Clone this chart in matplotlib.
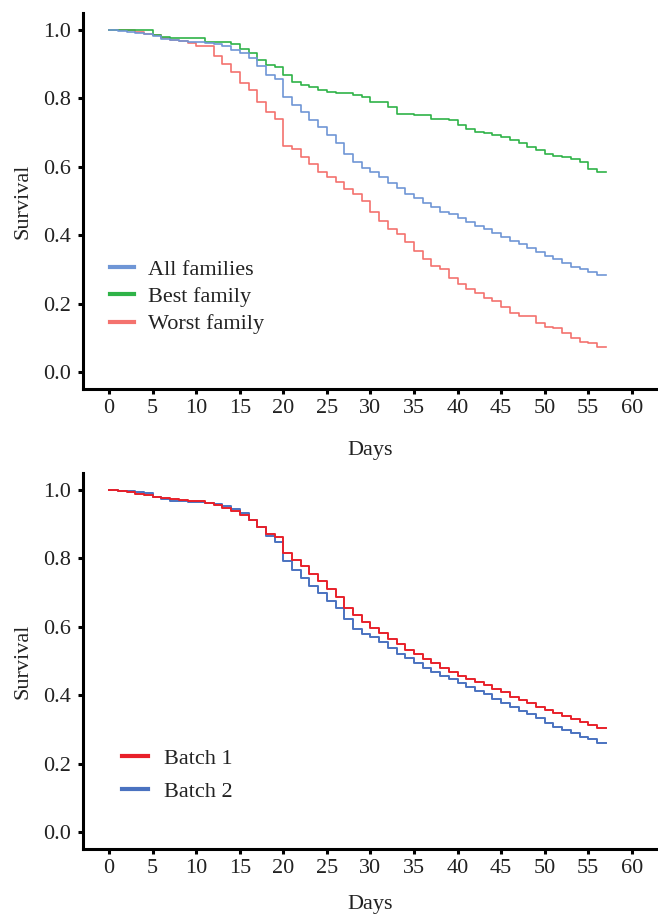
import matplotlib
matplotlib.use('Agg')
import matplotlib.pyplot as plt
import numpy as np

plt.rcParams['font.family'] = ['Liberation Serif', 'DejaVu Serif']

days = np.arange(0, 58)

# top panel: families
all_families = [1.0, 0.998, 0.995, 0.992, 0.988, 0.982, 0.975, 0.971, 0.968, 0.965,
                0.964, 0.963, 0.959, 0.953, 0.943, 0.932, 0.917, 0.896, 0.870, 0.856,
                0.805, 0.781, 0.761, 0.737, 0.717, 0.693, 0.669, 0.639, 0.615, 0.598,
                0.586, 0.569, 0.554, 0.537, 0.521, 0.508, 0.493, 0.482, 0.469, 0.461,
                0.449, 0.438, 0.428, 0.417, 0.406, 0.396, 0.383, 0.373, 0.362, 0.350,
                0.339, 0.330, 0.320, 0.308, 0.300, 0.291, 0.284, 0.284]
best_family = [1.0, 1.0, 1.0, 1.0, 1.0, 0.985, 0.980, 0.978, 0.978, 0.978,
               0.978, 0.966, 0.966, 0.966, 0.958, 0.946, 0.934, 0.912, 0.898, 0.893,
               0.870, 0.849, 0.839, 0.834, 0.825, 0.820, 0.815, 0.815, 0.810, 0.805,
               0.790, 0.790, 0.776, 0.756, 0.756, 0.751, 0.751, 0.741, 0.741, 0.736,
               0.722, 0.711, 0.703, 0.698, 0.692, 0.687, 0.678, 0.669, 0.658, 0.648,
               0.638, 0.632, 0.628, 0.623, 0.614, 0.595, 0.584, 0.584]
worst_family = [1.0, 1.0, 1.0, 0.995, 0.990, 0.985, 0.978, 0.972, 0.968, 0.963,
                0.953, 0.953, 0.924, 0.902, 0.878, 0.844, 0.825, 0.790, 0.761, 0.740,
                0.662, 0.652, 0.630, 0.607, 0.586, 0.569, 0.556, 0.535, 0.520, 0.501,
                0.467, 0.442, 0.417, 0.404, 0.381, 0.354, 0.329, 0.310, 0.300, 0.274,
                0.256, 0.242, 0.232, 0.217, 0.208, 0.191, 0.172, 0.164, 0.164, 0.142,
                0.132, 0.128, 0.113, 0.099, 0.089, 0.084, 0.074, 0.074]

# bottom panel: batches
batch1 = [1.0, 0.997, 0.994, 0.988, 0.985, 0.980, 0.976, 0.973, 0.971, 0.969,
          0.968, 0.963, 0.956, 0.948, 0.939, 0.927, 0.912, 0.893, 0.871, 0.862,
          0.817, 0.797, 0.779, 0.756, 0.735, 0.710, 0.686, 0.654, 0.635, 0.613,
          0.597, 0.581, 0.565, 0.549, 0.532, 0.520, 0.505, 0.493, 0.480, 0.469,
          0.456, 0.447, 0.439, 0.429, 0.418, 0.408, 0.396, 0.386, 0.376, 0.366,
          0.357, 0.347, 0.339, 0.330, 0.322, 0.313, 0.305, 0.305]
batch2 = [1.0, 0.998, 0.997, 0.994, 0.992, 0.979, 0.973, 0.969, 0.967, 0.965,
          0.964, 0.963, 0.959, 0.953, 0.944, 0.932, 0.914, 0.893, 0.865, 0.849,
          0.792, 0.766, 0.742, 0.719, 0.698, 0.676, 0.654, 0.623, 0.594, 0.578,
          0.571, 0.555, 0.537, 0.520, 0.508, 0.495, 0.479, 0.467, 0.456, 0.447,
          0.437, 0.425, 0.413, 0.403, 0.390, 0.378, 0.366, 0.355, 0.344, 0.333,
          0.320, 0.308, 0.298, 0.289, 0.279, 0.271, 0.261, 0.261]

xticks = np.arange(0, 61, 5)
yticks = [0.0, 0.2, 0.4, 0.6, 0.8, 1.0]


def style_axes(ax, xpad):
    ax.set_xlim(-3, 63)
    ax.set_ylim(-0.05, 1.05)
    ax.set_xticks(xticks)
    ax.set_yticks(yticks)
    ax.set_yticklabels(['%.1f' % v for v in yticks])
    for s in ['top', 'right']:
        ax.spines[s].set_visible(False)
    for s in ['left', 'bottom']:
        ax.spines[s].set_linewidth(2.2)
    ax.tick_params(width=2.2, length=3.5, labelsize=16, colors='black', labelcolor='#222222')
    ax.tick_params(axis='y', pad=5)
    ax.tick_params(axis='x', pad=4)
    ax.set_xlabel('Days', fontsize=16, color='#222222', labelpad=xpad)
    ax.set_ylabel('Survival', fontsize=16, color='#222222', labelpad=8)


fig = plt.figure(figsize=(6.58, 9.16), dpi=100)
ax1 = fig.add_axes([0.1261, 0.5753, 0.8739, 0.4105])
ax2 = fig.add_axes([0.1261, 0.0731, 0.8739, 0.4105])

c_all, c_best, c_worst = '#6f96d6', '#2fb348', '#f4726e'
l3, = ax1.plot(days, worst_family, drawstyle='steps-post', color=c_worst, lw=1.2)
l2, = ax1.plot(days, best_family, drawstyle='steps-post', color=c_best, lw=1.2)
l1, = ax1.plot(days, all_families, drawstyle='steps-post', color=c_all, lw=1.2)
style_axes(ax1, 16)
leg1 = ax1.legend([l1, l2, l3], ['All families', 'Best family', 'Worst family'],
                  loc='lower left', bbox_to_anchor=(0.02, 0.104), frameon=False,
                  fontsize=16, handlelength=1.1, handletextpad=0.6, labelspacing=0.3,
                  borderpad=0.2)
for ln in leg1.get_lines():
    ln.set_linewidth(3)
for t in leg1.get_texts():
    t.set_color('#222222')

c_b1, c_b2 = '#e8202a', '#4a72c0'
b2, = ax2.plot(days, batch2, drawstyle='steps-post', color=c_b2, lw=1.4)
b1, = ax2.plot(days, batch1, drawstyle='steps-post', color=c_b1, lw=1.4)
style_axes(ax2, 12)
leg2 = ax2.legend([b1, b2], ['Batch 1', 'Batch 2'],
                  loc='lower left', bbox_to_anchor=(0.04, 0.085), frameon=False,
                  fontsize=16, handlelength=1.2, handletextpad=0.7, labelspacing=0.55,
                  borderpad=0.2)
for ln in leg2.get_lines():
    ln.set_linewidth(3)
for t in leg2.get_texts():
    t.set_color('#222222')

fig.savefig('out.png', dpi=100)
